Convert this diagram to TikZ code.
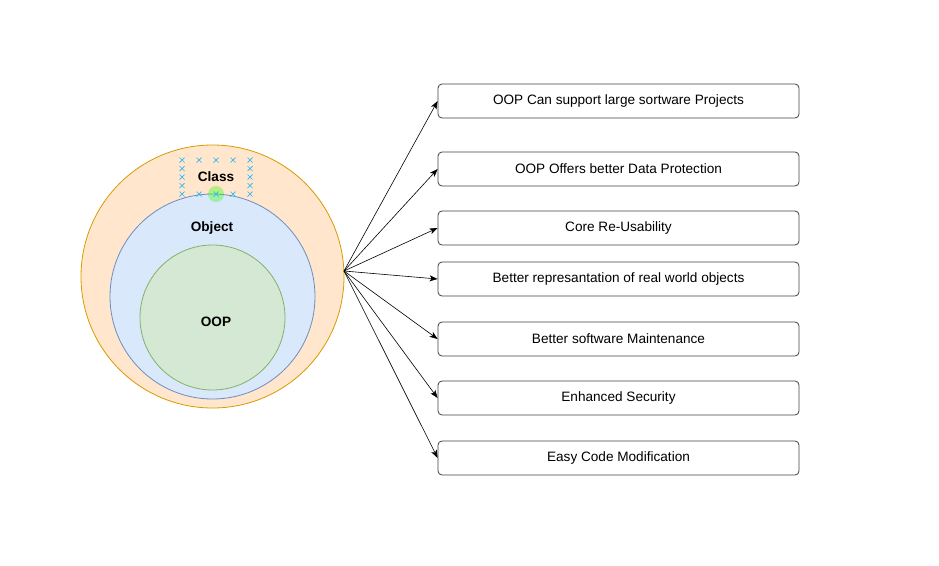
\documentclass[tikz,border=0pt]{standalone}
\usepackage{fontspec}
\setmainfont{Liberation Sans}
\usetikzlibrary{arrows.meta}
\definecolor{orangefill}{HTML}{FFE6CC}
\definecolor{orangeline}{HTML}{D79B00}
\definecolor{bluefill}{HTML}{DAE8FC}
\definecolor{blueline}{HTML}{6C8EBF}
\definecolor{greenfill}{HTML}{D5E8D4}
\definecolor{greenline}{HTML}{82B366}
\definecolor{handlecol}{HTML}{29B6F2}
\begin{document}
\begin{tikzpicture}[x=1pt,y=-1pt,
    ring/.style={circle, inner sep=0pt, line width=0.8pt},
    title/.style={font=\fontsize{13.6}{16}\selectfont\bfseries},
    item/.style={draw=black!75, rounded corners=4pt, line width=0.8pt,
      minimum width=361pt, minimum height=34pt, font=\fontsize{13.6}{16}\selectfont},
    link/.style={-{Stealth[length=8pt,width=6pt,inset=2pt]}, line width=0.6pt}]
  \useasboundingbox (0,0) rectangle (939,565);
  % nested circles
  \node[ring, draw=orangeline, fill=orangefill, minimum size=263pt] (outer) at (212.5,276.5) {};
  \node[ring, draw=blueline, fill=bluefill, minimum size=205pt] (object) at (212.5,296.5) {};
  \node[ring, draw=greenline, fill=greenfill, minimum size=145pt] (oop) at (212.5,317.5) {};
  \node[title] (classlbl) at (216,177) {Class};
  \node[title] (objectlbl) at (212,228) {Object};
  \node[title] (ooplbl) at (216,322) {OOP};
  % hover handles
  \fill[green!80!lime, opacity=0.35] (216,194) circle (8pt);
  \foreach \x in {182,199,216,233,250}
    \foreach \y in {160,194}
      \draw[handlecol, line width=0.7pt] (\x-2.5,\y-2.5) -- (\x+2.5,\y+2.5) (\x-2.5,\y+2.5) -- (\x+2.5,\y-2.5);
  \foreach \x in {182,250}
    \foreach \y in {168.5,177,185.5}
      \draw[handlecol, line width=0.7pt] (\x-2.5,\y-2.5) -- (\x+2.5,\y+2.5) (\x-2.5,\y+2.5) -- (\x+2.5,\y-2.5);
  % benefits
  \coordinate (hub) at (344,271);
  \foreach \y/\name/\txt in {101/b1/OOP Can support large sortware Projects,
      169/b2/OOP Offers better Data Protection,
      228/b3/Core Re-Usability,
      279/b4/Better represantation of real world objects,
      339/b5/Better software Maintenance,
      398/b6/Enhanced Security,
      458/b7/Easy Code Modification} {
    \node[item] (\name) at (618.5,\y) {\txt};
    \draw[link] (hub) -- (\name.west);
  }
\end{tikzpicture}
\end{document}
